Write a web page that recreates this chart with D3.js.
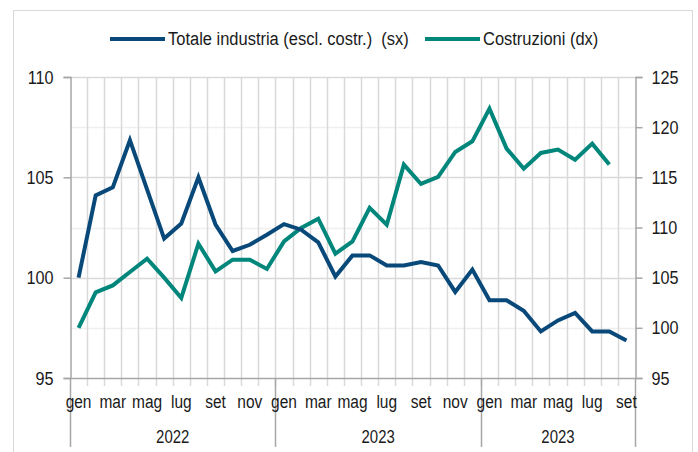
<!DOCTYPE html>
<html>
<head>
<meta charset="utf-8">
<script src="https://cdn.jsdelivr.net/npm/d3@7"></script>
<style>
  body { margin: 0; background: #fff; }
  svg text { font-family: "Liberation Sans", Arial, sans-serif; fill: #1a1a1a; }
</style>
</head>
<body>
<div id="chart"></div>
<script>
// mesi e anni
var monthNames = ["gen","feb","mar","apr","mag","giu","lug","ago","set","ott","nov","dic"];
var yearLabels = ["2022", "2023", "2023"];

// Totale industria (escl. costr.) - asse sinistro
var industria = [100.0, 104.1, 104.5, 106.85, 104.4, 101.95, 102.7, 105.0, 102.65, 101.33, 101.64, 102.14,
                 102.67, 102.39, 101.76, 100.06, 101.11, 101.11, 100.61, 100.61, 100.78, 100.61, 99.29, 100.4,
                 98.87, 98.87, 98.35, 97.32, 97.87, 98.24, 97.32, 97.32, 96.87];

// Costruzioni - asse destro
var costruzioni = [100.0, 103.53, 104.23, 105.57, 106.9, 105.0, 102.98, 108.39, 105.63, 106.79, 106.79, 105.87,
                   108.62, 109.95, 110.88, 107.39, 108.62, 111.95, 110.28, 116.27, 114.34, 115.04, 117.53, 118.59,
                   121.85, 117.86, 115.87, 117.43, 117.76, 116.76, 118.36, 116.27];

var leftTicks = [95, 100, 105, 110];
var rightTicks = [95, 100, 105, 110, 115, 120, 125];

var COLORS = { blue: "#08497a", green: "#00867b", grid: "#d9d9d9", gridLight: "#efefef", axis: "#a6a6a6", frame: "#d9d9d9" };

var width = 698, height = 452;
var plot = { left: 70, right: 635, top: 77, bottom: 378 };

var nMonths = industria.length;
var idx = d3.range(nMonths);

// niente font narrow installato: si stringe il testo normale
var condense = function(sel, k) {
  sel.each(function() {
    var w = this.getComputedTextLength();
    d3.select(this).attr("textLength", w * k).attr("lengthAdjust", "spacingAndGlyphs");
  });
};
var narrowK = 0.86;

var svg = d3.select("#chart").append("svg")
  .attr("width", width)
  .attr("height", height);

// cornice
svg.append("rect")
  .attr("x", 13.5).attr("y", 10.5)
  .attr("width", 679).attr("height", 460)
  .style("fill", "none")
  .style("stroke", COLORS.frame);

var x = d3.scaleBand()
  .domain(idx)
  .range([plot.left, plot.right])
  .paddingInner(0).paddingOuter(0);

var yLeft = d3.scaleLinear()
  .domain([95, 110])
  .range([plot.bottom, plot.top]);

var yRight = d3.scaleLinear()
  .domain([95, 125])
  .range([plot.bottom, plot.top]);

var cx = function(i) { return x(i) + x.bandwidth() / 2; };

// griglia orizzontale (linee chiare sui tick di destra, piu scure su quelli di sinistra)
svg.append("g")
  .selectAll("line")
  .data(rightTicks.slice(1))
  .join("line")
    .attr("x1", plot.left).attr("x2", plot.right)
    .attr("y1", d => Math.round(yRight(d)) + 0.5)
    .attr("y2", d => Math.round(yRight(d)) + 0.5)
    .style("stroke", d => (d - 95) % 10 == 0 ? COLORS.grid : COLORS.gridLight)
    .style("stroke-width", 1.5);

// griglia verticale + tacche sotto l'asse
svg.append("g")
  .selectAll("line")
  .data(d3.range(1, nMonths))
  .join("line")
    .attr("x1", d => Math.round(x(d)) + 0.5)
    .attr("x2", d => Math.round(x(d)) + 0.5)
    .attr("y1", plot.top)
    .attr("y2", plot.bottom + 8)
    .style("stroke", COLORS.grid)
    .style("stroke-width", 1.5);

// separatori anni
var yearBounds = [0, 12, 24, nMonths];
svg.append("g")
  .selectAll("line")
  .data(yearBounds)
  .join("line")
    .attr("x1", d => Math.round(d == nMonths ? plot.right : x(d)) + 0.5)
    .attr("x2", d => Math.round(d == nMonths ? plot.right : x(d)) + 0.5)
    .attr("y1", plot.bottom)
    .attr("y2", 447)
    .style("stroke", COLORS.axis)
    .style("stroke-width", 1.5);

// asse sinistro
var axisLeft = svg.append("g")
  .attr("transform", "translate(" + (plot.left + 0.5) + ",0)")
  .call(d3.axisLeft(yLeft).tickValues(leftTicks).tickSize(7).tickPadding(10).tickFormat(d3.format("d")));

// asse destro
var axisRight = svg.append("g")
  .attr("transform", "translate(" + (plot.right + 0.5) + ",0)")
  .call(d3.axisRight(yRight).tickValues(rightTicks).tickSize(7).tickPadding(9).tickFormat(d3.format("d")));

[axisLeft, axisRight].forEach(function(a) {
  a.select(".domain").style("stroke", COLORS.axis).style("stroke-width", 1.5);
  a.selectAll(".tick line").style("stroke", COLORS.axis).style("stroke-width", 1.5);
  a.selectAll(".tick text")
    .style("font-size", "18px")
    .style("font-family", "'Liberation Sans', Arial, sans-serif")
    .attr("fill", "#1a1a1a")
    .attr("dy", "0.34em")
    .call(condense, 0.9);
});

// asse orizzontale
svg.append("line")
  .attr("x1", plot.left).attr("x2", plot.right)
  .attr("y1", plot.bottom + 0.5).attr("y2", plot.bottom + 0.5)
  .style("stroke", COLORS.axis)
  .style("stroke-width", 1.5);

// etichette mesi (uno si e uno no)
svg.append("g")
  .selectAll("text")
  .data(idx.filter(d => d % 2 == 0))
  .join("text")
    .attr("x", d => cx(d))
    .attr("y", 408)
    .attr("text-anchor", "middle")
    .style("font-size", "18px")
    .text(d => monthNames[d % 12])
    .call(condense, narrowK);

// etichette anni
svg.append("g")
  .selectAll("text")
  .data(yearLabels)
  .join("text")
    .attr("x", function(d, i) {
      var a = x(yearBounds[i]);
      var b = yearBounds[i + 1] == nMonths ? plot.right : x(yearBounds[i + 1]);
      return (a + b) / 2;
    })
    .attr("y", 443)
    .attr("text-anchor", "middle")
    .style("font-size", "18px")
    .text(d => d)
    .call(condense, 0.83);

// linee
var lineLeft = d3.line()
  .x((d, i) => cx(i))
  .y(d => yLeft(d));

var lineRight = d3.line()
  .x((d, i) => cx(i))
  .y(d => yRight(d));

svg.append("path")
  .datum(costruzioni)
  .attr("d", lineRight)
  .style("fill", "none")
  .style("stroke", COLORS.green)
  .style("stroke-width", 4)
  .style("stroke-linejoin", "miter");

svg.append("path")
  .datum(industria)
  .attr("d", lineLeft)
  .style("fill", "none")
  .style("stroke", COLORS.blue)
  .style("stroke-width", 4)
  .style("stroke-linejoin", "miter");

// legenda
var legendItems = [
  { label: "Totale industria (escl. costr.)  (sx)", color: COLORS.blue, x: 110 },
  { label: "Costruzioni (dx)", color: COLORS.green, x: 425 }
];

var legend = svg.append("g")
  .selectAll("g")
  .data(legendItems)
  .join("g")
    .attr("transform", d => "translate(" + d.x + ",39)");

legend.append("line")
  .attr("x1", 0).attr("x2", 55)
  .style("stroke", d => d.color)
  .style("stroke-width", 4);

legend.append("text")
  .attr("x", 58)
  .attr("dy", "0.35em")
  .style("font-size", "18px")
  .attr("xml:space", "preserve")
  .text(d => d.label)
  .call(condense, 0.915);
</script>
</body>
</html>
